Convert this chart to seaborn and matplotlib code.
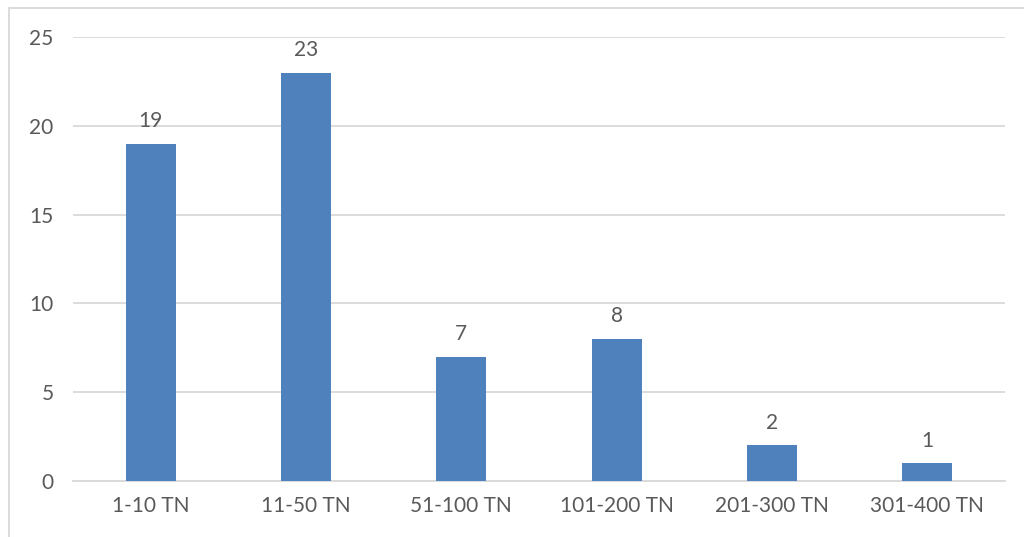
import pandas as pd
import seaborn as sns
import matplotlib.pyplot as plt
from matplotlib.patches import Rectangle

# Values
categories = ['1-10 TN', '11-50 TN', '51-100 TN', '101-200 TN', '201-300 TN', '301-400 TN']
counts = [19, 23, 7, 8, 2, 1]

df = pd.DataFrame({'Category': categories, 'Count': counts})

sns.set_style('white')
plt.rcParams['font.family'] = ['Lato', 'DejaVu Sans']

text_color = '#595959'
bar_color = '#4F81BD'
grid_color = '#D9D9D9'

fig = plt.figure(figsize=(10.24, 5.37), dpi=100)
ax = fig.add_axes([73 / 1024, 1 - 481 / 537, (1005 - 73) / 1024, (481 - 37) / 537])

sns.barplot(data=df, x='Category', y='Count', color=bar_color, width=0.32,
            saturation=1, linewidth=0, ax=ax, zorder=3)

ax.set_xlim(-0.5, len(categories) - 0.5)
ax.set_ylim(0, 25)
ax.set_yticks(range(0, 26, 5))
ax.yaxis.grid(True, color=grid_color, linewidth=1.3, zorder=0)
ax.set_axisbelow(True)

for side in ['top', 'right', 'left']:
    ax.spines[side].set_visible(False)
ax.spines['bottom'].set_color(grid_color)
ax.spines['bottom'].set_linewidth(1.3)

ax.tick_params(axis='both', length=0, labelsize=15, labelcolor=text_color)
ax.tick_params(axis='x', pad=11)
ax.tick_params(axis='y', pad=14)
ax.set_xlabel('')
ax.set_ylabel('')

ax.bar_label(ax.containers[0], padding=9, fontsize=15, color=text_color)

# Chart area border
fig.patches.append(Rectangle((9 / 1024, -0.1), 1.2, 1 - 8 / 537 + 0.1,
                             transform=fig.transFigure, fill=False,
                             edgecolor='#D9D9D9', linewidth=1.3))

fig.savefig('out.png', dpi=100)
